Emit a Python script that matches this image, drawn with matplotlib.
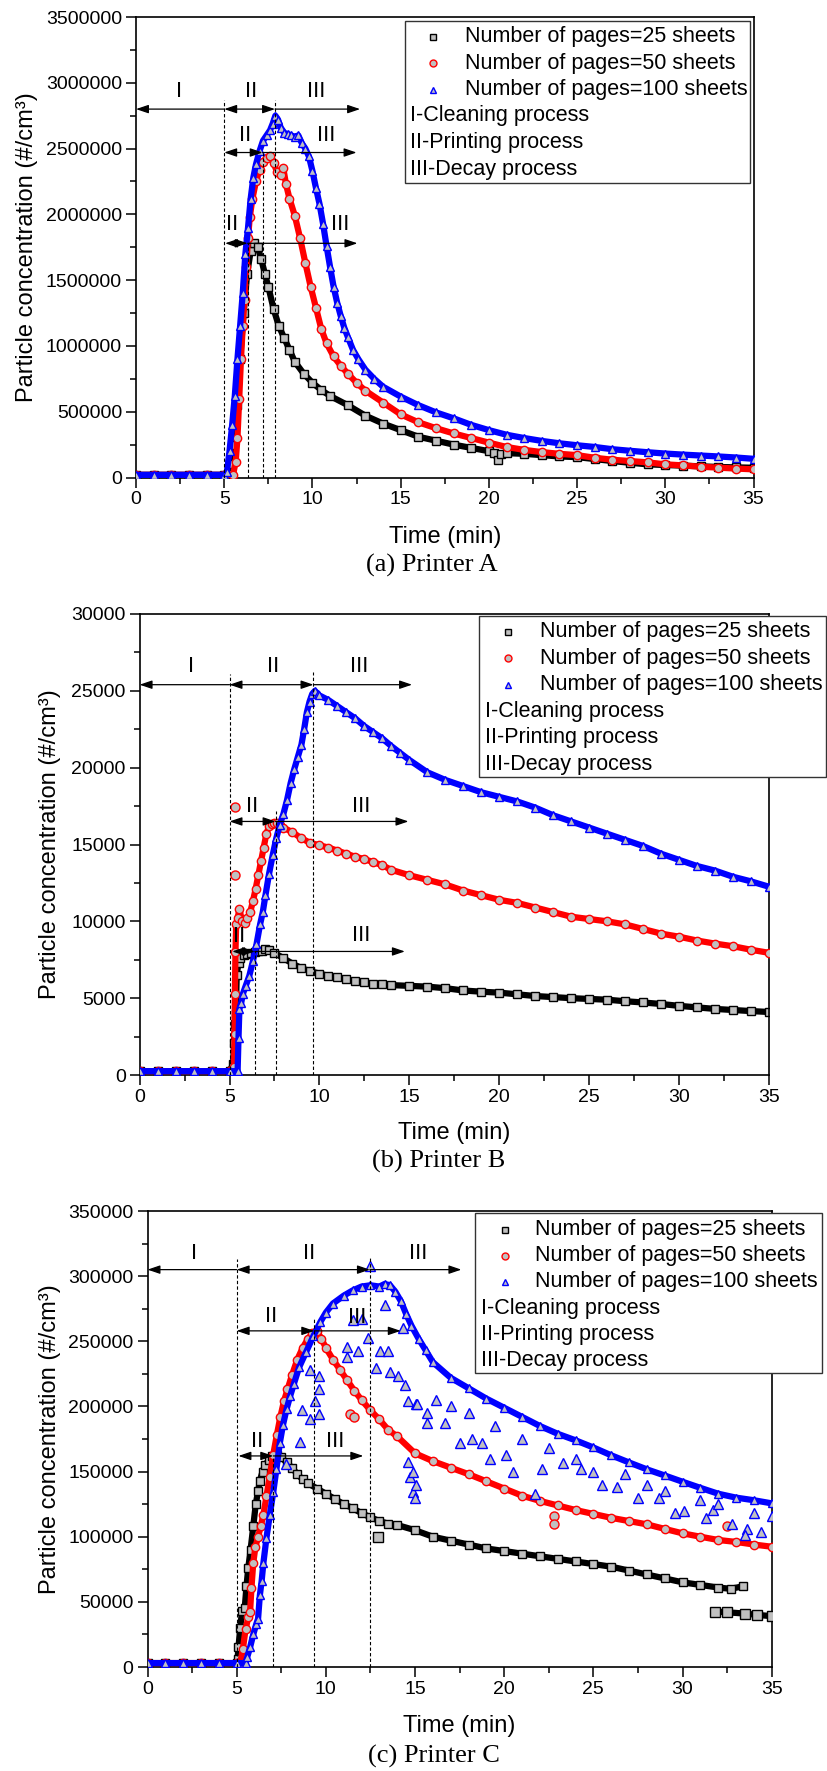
import matplotlib
matplotlib.use('Agg')
import matplotlib.pyplot as plt
from matplotlib.ticker import MultipleLocator, FuncFormatter
from matplotlib.patches import Rectangle
from matplotlib.lines import Line2D

plt.rcParams['font.family'] = ['Liberation Sans', 'DejaVu Sans']

# ---------------- DATA ----------------
# Panel A (Printer A), values in thousands of #/cm3
a_black = [(0,20),(1,20),(2,20),(3,20),(4,20),(5,20),(5.2,25),(5.35,100),(5.5,250),(5.7,550),(5.9,900),
           (6.1,1250),(6.3,1550),(6.5,1720),(6.7,1780),(6.9,1750),(7.1,1660),(7.3,1550),(7.5,1450),(7.8,1280),
           (8.1,1150),(8.4,1060),(8.7,970),(9.0,880),(9.5,790),(10.0,720),(10.5,665),(11.0,620),(12.0,550),
           (13.0,470),(14.0,410),(15.0,360),(16.0,310),(17.0,280),(18.0,250),(19.0,225),(20.0,200),(20.3,190),
           (20.5,135),(20.7,180),(21.0,185),(22.0,180),(23.0,170),(24.0,160),(25.0,155),(26.0,140),(27.0,125),
           (28.0,112),(29.0,100),(30.0,95),(31.0,90),(32.0,85),(33.0,80),(34.0,77),(35.0,74)]
a_red = [(0,20),(1,20),(2,20),(3,20),(4,20),(5,20),(5.5,20),(5.65,120),(5.75,300),(5.85,600),(5.95,900),
         (6.05,1150),(6.15,1350),(6.25,1600),(6.35,1820),(6.45,1980),(6.6,2120),(6.8,2250),(7.0,2340),(7.2,2400),
         (7.4,2430),(7.6,2440),(7.8,2390),(8.0,2320),(8.2,2300),(8.35,2350),(8.5,2230),(8.7,2120),(9.0,1990),
         (9.3,1820),(9.6,1630),(9.9,1450),(10.2,1290),(10.5,1130),(10.8,1020),(11.2,920),(11.6,850),(12.0,790),
         (12.5,720),(13.0,660),(14.0,570),(15.0,480),(16.0,420),(17.0,375),(18.0,335),(19.0,300),(20.0,265),
         (21.0,232),(22.0,210),(23.0,193),(24.0,180),(25.0,170),(26.0,150),(27.0,135),(28.0,125),(29.0,115),
         (30.0,100),(31.0,92),(32.0,82),(33.0,75),(34.0,68),(35.0,62)]
a_blue = [(0,20),(1,20),(2,20),(3,20),(4,20),(5,20),(5.15,40),(5.3,200),(5.45,400),(5.6,620),(5.75,900),
          (5.9,1150),(6.05,1400),(6.2,1700),(6.35,1900),(6.5,2120),(6.65,2280),(6.8,2380),(7.0,2480),(7.2,2560),
          (7.4,2600),(7.6,2640),(7.75,2690),(7.9,2750),(8.05,2720),(8.2,2660),(8.4,2620),(8.6,2610),(8.8,2600),
          (9.0,2590),(9.2,2600),(9.4,2540),(9.6,2500),(9.8,2440),(10.0,2330),(10.2,2200),(10.4,2080),(10.6,1930),
          (10.8,1760),(11.0,1600),(11.2,1450),(11.4,1330),(11.6,1230),(11.8,1140),(12.0,1070),(12.3,970),
          (12.6,900),(13.0,820),(13.5,750),(14.0,690),(15.0,615),(16.0,550),(17.0,495),(18.0,450),(19.0,400),
          (20.0,360),(21.0,325),(22.0,300),(23.0,278),(24.0,260),(25.0,245),(26.0,232),(27.0,215),(28.0,203),
          (29.0,192),(30.0,182),(31.0,174),(32.0,167),(33.0,160),(34.0,152),(35.0,142)]

# Panel B (Printer B), values in #/cm3
b_black = [(0,250),(1,250),(2,250),(3,250),(4,250),(5,250),(5.2,700),(5.25,2100),(5.3,3300),(5.35,4000),
           (5.4,6500),(5.5,7300),(5.6,7600),(5.8,7800),(6.0,7900),(6.2,7950),(6.4,8000),(6.6,8050),(6.8,8100),
           (7.0,8180),(7.2,8150),(7.5,7950),(8.0,7600),(8.5,7250),(9.0,6950),(9.5,6750),(10.0,6600),(10.5,6450),
           (11.0,6350),(11.5,6220),(12.0,6120),(12.5,6020),(13.0,5950),(13.5,5900),(14.0,5850),(15.0,5800),
           (16.0,5750),(17.0,5650),(18.0,5500),(19.0,5420),(20.0,5360),(21.0,5250),(22.0,5140),(23.0,5070),
           (24.0,5000),(25.0,4950),(26.0,4900),(27.0,4800),(28.0,4720),(29.0,4620),(30.0,4500),(31.0,4400),
           (32.0,4300),(33.0,4230),(34.0,4160),(35.0,4100)]
b_red = [(0,250),(1,250),(2,250),(3,250),(4,250),(5,250),(5.25,500),(5.28,2700),(5.3,5300),(5.33,8000),
         (5.37,9800),(5.45,10200),(5.55,10800),(5.7,10000),(5.85,9900),(6.0,10200),(6.15,10600),(6.3,11300),
         (6.45,12100),(6.6,13000),(6.75,13900),(6.9,14800),(7.05,15700),(7.2,16200),(7.35,16350),(7.5,16400),
         (7.65,16380),(7.8,16250),(8.0,16100),(8.5,15800),(9.0,15400),(9.5,15100),(10.0,14950),(10.5,14800),
         (11.0,14600),(11.5,14400),(12.0,14200),(12.5,14050),(13.0,13850),(13.5,13650),(14.0,13350),
         (15.0,13000),(16.0,12700),(17.0,12400),(18.0,12000),(19.0,11700),(20.0,11400),(21.0,11200),
         (22.0,10900),(23.0,10600),(24.0,10300),(25.0,10150),(26.0,10000),(27.0,9800),(28.0,9500),(29.0,9200),
         (30.0,9000),(31.0,8750),(32.0,8550),(33.0,8380),(34.0,8150),(35.0,7950)]
b_red_outliers = [(5.3,17450),(5.3,13000)]
b_blue = [(0,250),(1,250),(2,250),(3,250),(4,250),(5,250),(5.45,250),(5.5,2400),(5.55,4300),(5.65,4700),
          (5.75,5300),(5.9,5800),(6.1,6450),(6.3,7400),(6.5,8500),(6.7,9800),(6.85,10600),(7.0,11700),
          (7.2,13100),(7.4,14300),(7.6,15400),(7.8,16300),(8.0,17000),(8.2,17900),(8.4,19000),(8.6,19900),
          (8.8,20700),(9.0,21500),(9.15,22500),(9.3,23600),(9.45,24300),(9.6,24800),(9.75,25000),(9.9,24800),
          (10.0,24700),(10.5,24400),(11.0,24000),(11.5,23600),(12.0,23200),(12.5,22700),(13.0,22300),
          (13.5,21900),(14.0,21400),(14.5,20950),(15.0,20500),(16.0,19700),(17.0,19200),(18.0,18800),
          (19.0,18400),(20.0,18100),(21.0,17800),(22.0,17400),(23.0,16900),(24.0,16500),(25.0,16100),
          (26.0,15700),(27.0,15300),(28.0,14900),(29.0,14400),(30.0,14000),(31.0,13600),(32.0,13300),
          (33.0,12900),(34.0,12600),(35.0,12250)]

# Panel C (Printer C), values in thousands of #/cm3
c_black = [(0,3),(1,3),(2,3),(3,3),(4,3),(5,3),(5.05,6),(5.1,15),(5.2,30),(5.3,43),(5.45,45),(5.55,62),
           (5.65,76),(5.78,90),(5.93,108),(6.07,125),(6.2,135),(6.3,143),(6.45,150),(6.6,155),(6.8,159),
           (7.0,162),(7.25,163),(7.5,161),(7.8,157),(8.1,153),(8.4,148),(8.7,144),(9.0,141),(9.5,137),
           (10.0,133),(10.5,129),(11.0,125),(11.5,122),(12.0,118),(12.5,115),(13.0,112),(13.5,110),(14.0,109),
           (15.0,105),(16.0,100),(17.0,97),(18.0,94),(19.0,91),(20.0,89),(21.0,87),(22.0,85),(23.0,83),
           (24.0,81),(25.0,79),(26.0,77),(27.0,74),(28.0,71),(29.0,68),(30.0,65),(31.0,63),(32.0,61),
           (32.7,60),(33.4,62)]
c_black_tail = [(31.8,42.5),(32.5,42),(33.5,41),(34.2,40),(35.0,39)]
c_black_outliers = [(12.9,100)]
c_red = [(0,3),(1,3),(2,3),(3,3),(4,3),(5,3),(5.2,3),(5.35,14),(5.5,29),(5.65,38),(5.75,42),(5.83,61),
         (5.93,80),(6.05,92),(6.2,100),(6.35,108),(6.5,117),(6.67,131),(6.85,146),(7.05,163),(7.25,178),
         (7.45,192),(7.65,204),(7.85,213),(8.1,224),(8.4,236),(8.7,245),(9.0,252),(9.25,256),(9.5,258),
         (9.75,252),(10.0,245),(10.4,236),(10.8,228),(11.2,220),(11.6,212),(12.0,205),(12.5,197),(13.0,190),
         (13.5,182),(14.0,177),(15.0,164),(16.0,158),(17.0,153),(18.0,148),(19.0,142.5),(20.0,137),
         (21.0,131.5),(22.0,127.5),(23.0,124),(24.0,120.5),(25.0,117.5),(26.0,114.5),(27.0,112),(28.0,109.5),
         (29.0,106),(30.0,102.6),(31.0,100),(32.0,97.5),(33.0,96),(34.0,94),(35.0,92.3)]
c_red_outliers = [(11.35,194),(11.6,192),(22.8,116),(22.8,109.5),(32.5,108)]
c_blue = [(0,3),(1,3),(2,3),(3,3),(4,3),(5,3),(5.5,3),(5.6,8),(5.75,15),(5.93,25),(6.1,33),(6.2,37),
          (6.3,55),(6.4,66),(6.5,80),(6.67,99),(6.86,117),(7.05,134),(7.23,152),(7.42,172),(7.6,186),
          (7.8,198),(8.0,208),(8.2,217),(8.5,230),(8.9,242),(9.3,254),(9.7,265),(10.0,272),(10.4,279),
          (11.0,285),(11.5,289),(12.0,292),(12.5,293),(13.0,292),(13.3,294),(13.6,293),(13.9,288),(14.2,281),
          (14.5,271),(14.8,262),(15.2,252),(15.6,243),(16.0,234),(17.0,222),(18.0,214),(19.0,206),(20.0,199),
          (21.0,192),(22.0,185),(23.0,179),(24.0,174),(25.0,168.5),(26.0,162.5),(27.0,157),(28.0,151.7),
          (29.0,147),(30.0,142.2),(31.0,137.5),(32.0,133),(33.0,130),(34.0,128),(35.0,125.6)]
c_blue_scatter = [(7.79,156),(8.54,173),(8.64,197),(9.1,190),(9.38,204),(9.63,194),(9.63,213),(9.63,223.5),
                  (9.1,228),(11.16,245.5),(11.16,238),(11.81,242.5),(12.37,252.8),(12.84,229.3),(13.03,242.5),
                  (13.5,242.5),(13.6,226.4),(14.06,223.5),(14.43,216.2),(14.62,204.4),(15.08,201.5),
                  (14.62,157.6),(14.71,145.9),(14.9,134.2),(15.08,140),(14.9,150),(15.0,130),(11.53,266),
                  (13.3,277.7),(12.0,267.4),(14.34,260),(12.47,308),(15.1,202),(15.66,194.7),(15.66,187),
                  (16.7,187),(17.5,171.7),(18.2,174.7),(18.75,171.7),(19.2,160),(20.1,162.7),(20.5,150),
                  (21.7,133),(22.1,152.3),(23.3,156.6),(24.3,152.3),(25.5,139.7),(26.3,138),(27.5,129.5),
                  (28.7,129.5),(29.6,118),(30.1,119.5),(31.3,114.7),(32.8,109.7),(33.6,105.8),(34.4,103.3),
                  (33.5,101.3),(31.7,120.8),(16.2,205),(17.0,200),(18.0,195),(19.5,185),(21.0,175),
                  (22.5,168),(24.0,160),(25.0,150),(26.8,148),(28.0,140),(29.0,135),(31.0,128),(32.0,125),
                  (34.0,118),(35.0,116)]

legend_labels = ['Number of pages=25 sheets', 'Number of pages=50 sheets', 'Number of pages=100 sheets']
process_labels = ['I-Cleaning process', 'II-Printing process', 'III-Decay process']
captions = ['(a) Printer A', '(b) Printer B', '(c) Printer C']

# phase annotations: (row y, [(x0, x1, style)], [(label, x, y)])
a_rows = [(2800, [(5, 0, '-|>'), (5, 7.88, '<|-|>'), (7.88, 12.7, '-|>')],
           [('I', 2.46, 2930), ('II', 6.5, 2930), ('III', 10.2, 2930)]),
          (2470, [(5, 7.18, '<|-|>'), (7.18, 12.5, '-|>')], [('II', 6.2, 2600), ('III', 10.8, 2600)]),
          (1780, [(5.05, 6.33, '<|-|>'), (6.33, 12.55, '-|>')], [('II', 5.45, 1920), ('III', 11.6, 1920)])]
a_dashes = [(5.0, 2870), (6.33, 1780), (7.18, 2470), (7.88, 2870)]
b_rows = [(25400, [(5, 0, '-|>'), (5, 9.67, '<|-|>'), (9.67, 15.15, '-|>')],
           [('I', 2.88, 26600), ('II', 7.45, 26600), ('III', 12.2, 26600)]),
          (16500, [(5, 7.56, '<|-|>'), (7.56, 14.95, '-|>')], [('II', 6.28, 17500), ('III', 12.3, 17500)]),
          (8040, [(5.15, 6.41, '<|-|>'), (6.41, 14.75, '-|>')], [('II', 5.56, 9000), ('III', 12.3, 9100)])]
b_dashes = [(5.0, 26100), (6.41, 8040), (7.56, 17200), (9.67, 26200)]
c_rows = [(305, [(5, 0, '-|>'), (5, 12.47, '<|-|>'), (12.47, 17.6, '-|>')],
           [('I', 2.62, 317), ('II', 9.07, 317), ('III', 15.2, 317)]),
          (258, [(5, 9.35, '<|-|>'), (9.35, 14.2, '-|>')], [('II', 6.92, 269), ('III', 11.78, 268)]),
          (162, [(5.1, 7.05, '<|-|>'), (7.05, 12.1, '-|>')], [('II', 6.17, 173), ('III', 10.5, 173)])]
c_dashes = [(5.0, 313), (7.05, 162), (9.35, 269), (12.47, 314)]

# ---------------- FIGURE ----------------
W, H = 827, 1771
fig = plt.figure(figsize=(W / 100, H / 100), dpi=100)


def fxp(x):
    return x / W


def fyp(y):
    return 1 - y / H


def make_axes(l, t, r, b):
    return fig.add_axes([fxp(l), fyp(b), (r - l) / W, (b - t) / H])


GRAY = '#c0c0c0'
styles = [('s', 'black'), ('o', 'red'), ('^', 'blue')]


def plot_series(ax, data, color, marker, scale, z):
    t = [p[0] for p in data]
    v = [p[1] * scale for p in data]
    ax.plot(t, v, '-', color=color, lw=4.5, solid_joinstyle='round', solid_capstyle='round', zorder=z)
    ax.plot(t, v, ls='none', marker=marker, ms=6, mfc=GRAY, mec=color, mew=1.0, zorder=z + 0.5)


def plot_points(ax, data, color, marker, scale, z):
    t = [p[0] for p in data]
    v = [p[1] * scale for p in data]
    ax.plot(t, v, ls='none', marker=marker, ms=6.5, mfc=GRAY, mec=color, mew=1.0, zorder=z)


def style_axes(ax, ymax, ystep):
    ax.set_xlim(0, 35)
    ax.set_ylim(0, ymax)
    ax.xaxis.set_major_locator(MultipleLocator(5))
    ax.xaxis.set_minor_locator(MultipleLocator(2.5))
    ax.yaxis.set_major_locator(MultipleLocator(ystep))
    ax.yaxis.set_minor_locator(MultipleLocator(ystep / 2))
    ax.yaxis.set_major_formatter(FuncFormatter(lambda v, p: '%d' % int(round(v))))
    ax.xaxis.set_major_formatter(FuncFormatter(lambda v, p: '%d' % int(round(v))))
    ax.tick_params(which='both', direction='out', top=False, right=False, labelsize=14, width=1.1)
    ax.tick_params(which='major', length=7, pad=3)
    ax.tick_params(which='minor', length=4)
    for s in ax.spines.values():
        s.set_linewidth(1.2)


def annotate_phases(ax, rows, dashes, scale):
    for y, arrows, labels in rows:
        for x0, x1, st in arrows:
            ax.annotate('', xy=(x1, y * scale), xytext=(x0, y * scale),
                        arrowprops=dict(arrowstyle=st + ',head_length=0.5,head_width=0.17', color='black',
                                        lw=0.9, shrinkA=0, shrinkB=0, mutation_scale=15), zorder=7)
        for s, x, yy in labels:
            ax.text(x, yy * scale, s, fontsize=16, ha='center', va='center', zorder=7)
    for x, ytop in dashes:
        ax.plot([x, x], [0, ytop * scale], color='black', lw=0.8, ls=(0, (3, 2)), zorder=6)


def draw_legend(box, marker_x, text_x, proc_x, rows_y):
    l, t, r, b = box
    fig.add_artist(Rectangle((fxp(l), fyp(b)), (r - l) / W, (b - t) / H, transform=fig.transFigure,
                             facecolor='white', edgecolor='#333333', lw=1.0, zorder=10))
    for i, (m, c) in enumerate(styles):
        fig.add_artist(Line2D([fxp(marker_x)], [fyp(rows_y[i])], transform=fig.transFigure, marker=m,
                              ms=5, mfc=GRAY, mec=c, mew=1.0, ls='none', zorder=11))
        fig.text(fxp(text_x), fyp(rows_y[i]), legend_labels[i], fontsize=15.5, ha='left', va='center', zorder=11)
    for j, s in enumerate(process_labels):
        fig.text(fxp(proc_x), fyp(rows_y[3 + j]), s, fontsize=15.5, ha='left', va='center', zorder=11)


panels = [
    dict(rect=(136, 17, 753.5, 477.5), series=[a_black, a_red, a_blue], scale=1000, ymax=3500000,
         ystep=500000, rows=a_rows, dashes=a_dashes, ylab_x=27, time_y=537, cap=(432, 565),
         legend=((405, 21, 750, 183), 433, 465, 410, [36.5, 63, 89.5, 116, 142.5, 169])),
    dict(rect=(139.6, 614, 769, 1075), series=[b_black, b_red, b_blue], scale=1, ymax=30000,
         ystep=5000, rows=b_rows, dashes=b_dashes, ylab_x=50, time_y=1133, cap=(439, 1161),
         legend=((479, 616, 826, 777), 508, 540, 485, [631.5, 658, 684.5, 711, 737.5, 764])),
    dict(rect=(147.5, 1211, 771.7, 1667), series=[c_black, c_red, c_blue], scale=1000, ymax=350000,
         ystep=50000, rows=c_rows, dashes=c_dashes, ylab_x=50, time_y=1726, cap=(434, 1756),
         legend=((475, 1213, 822, 1373), 505, 535, 481, [1229.5, 1256, 1282, 1308.5, 1334.5, 1360.5])),
]

for k, p in enumerate(panels):
    l, t, r, b = p['rect']
    ax = make_axes(l, t, r, b)
    sc = p['scale']
    for i, data in enumerate(p['series']):
        m, c = styles[i]
        plot_series(ax, data, c, m, sc, 2 + i)
    if k == 1:
        plot_points(ax, b_red_outliers, 'red', 'o', 1, 3.6)
    if k == 2:
        plot_points(ax, c_black_tail, 'black', 's', 1000, 2.6)
        ax.plot([q[0] for q in c_black_tail], [q[1] * 1000 for q in c_black_tail], '-', color='black',
                lw=4.5, zorder=2.4)
        plot_points(ax, c_black_outliers, 'black', 's', 1000, 2.6)
        plot_points(ax, c_red_outliers, 'red', 'o', 1000, 3.6)
        plot_points(ax, c_blue_scatter, 'blue', '^', 1000, 4.6)
    style_axes(ax, p['ymax'], p['ystep'])
    annotate_phases(ax, p['rows'], p['dashes'], sc)
    ax.set_ylabel('Particle concentration (#/cm³)', fontsize=17, va='center')
    ax.yaxis.set_label_coords((p['ylab_x'] - l) / (r - l), 0.5)
    fig.text(fxp((l + r) / 2), fyp(p['time_y']), 'Time (min)', fontsize=17, ha='center', va='center')
    fig.text(fxp(p['cap'][0]), fyp(p['cap'][1]), captions[k], fontsize=19, ha='center', va='center',
             family=['Liberation Serif', 'DejaVu Serif'])
    draw_legend(*p['legend'])

fig.savefig('out.png', dpi=100)
